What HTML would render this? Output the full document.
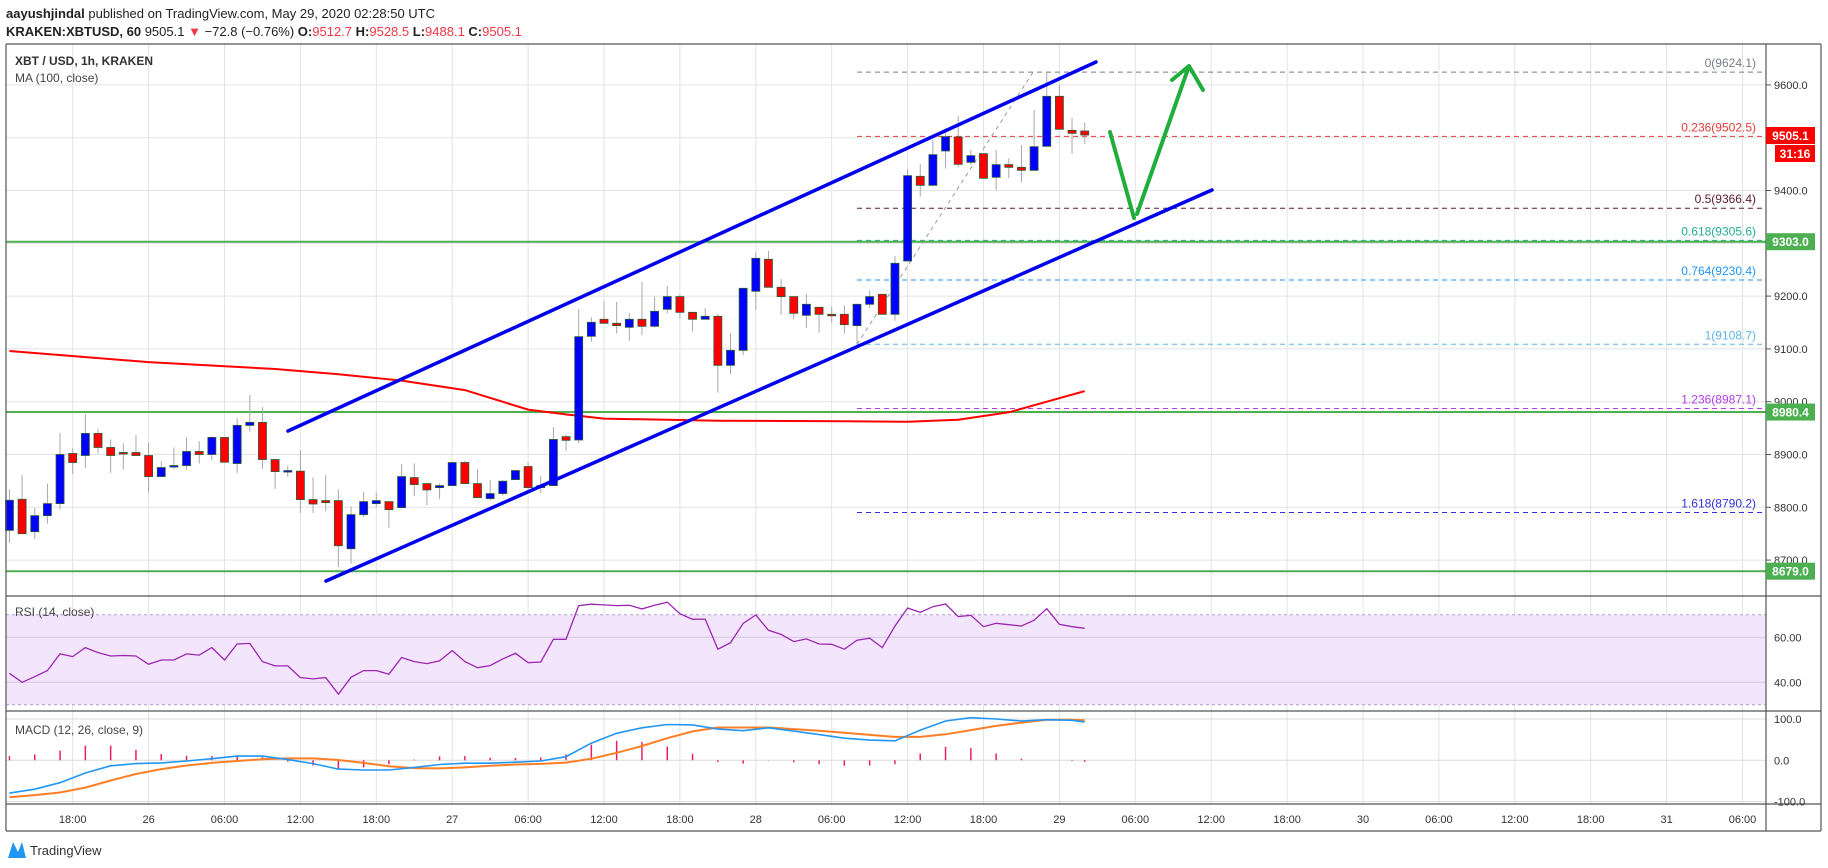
<!DOCTYPE html>
<html><head><meta charset="utf-8"><style>
html,body{margin:0;padding:0;background:#fff;}
svg{display:block;font-family:"Liberation Sans",sans-serif;}
</style></head><body>
<svg id="chart" width="1828" height="868" viewBox="0 0 1828 868" xmlns="http://www.w3.org/2000/svg">
<text x="6" y="18" font-size="13" fill="#222"><tspan font-weight="bold">aayushjindal</tspan> published on TradingView.com, May 29, 2020 02:28:50 UTC</text>
<text x="6" y="36" font-size="13" fill="#222"><tspan font-weight="bold">KRAKEN:XBTUSD, 60</tspan> 9505.1 <tspan fill="#f23645">▼</tspan> −72.8 (−0.76%) <tspan font-weight="bold">O:</tspan><tspan fill="#f23645">9512.7</tspan> <tspan font-weight="bold">H:</tspan><tspan fill="#f23645">9528.5</tspan> <tspan font-weight="bold">L:</tspan><tspan fill="#f23645">9488.1</tspan> <tspan font-weight="bold">C:</tspan><tspan fill="#f23645">9505.1</tspan></text>
<g id="grid"></g><g id="rsiBg"></g><g id="levels"></g><g id="candles"></g><g id="overlay"></g><g id="frame"></g><g id="labels"></g>
</svg>
<script>
const opens=[8756.3,8815.2,8753.8,8784.2,8807,8901.9,8898.1,8939.9,8913.3,8903.8,8903.8,8898.1,8858.2,8879.1,8879.1,8905.7,8900,8932.3,8882.9,8955.1,8960.8,8890.5,8869.6,8868.4,8814.6,8812.7,8812.7,8721.5,8786.1,8807,8810.8,8799.4,8856.3,8844.9,8837.3,8841.1,8884.8,8844.9,8816.5,8826,8852.5,8877.2,8837.3,8841.1,8933.8,8927.5,9123.9,9156.1,9148.5,9140.9,9156.1,9142.8,9175,9199,9169.3,9156.1,9161.7,9068.9,9097.3,9209.1,9269.7,9216.7,9199,9163.6,9178.8,9165.5,9165.5,9144.1,9184.5,9203.4,9165.5,9266.5,9426.9,9409.8,9474.9,9501.4,9453.4,9469.8,9425,9449,9443.9,9438.2,9483.7,9578.4,9514,9512.7];
const closes=[8813.3,8750,8784.2,8807,8900,8884.8,8939.9,8913.3,8898.1,8902.5,8898.1,8858.2,8875.3,8879.1,8905.7,8900,8932.3,8885.4,8955.1,8960.8,8890.5,8867.7,8869.6,8814.6,8806.3,8808.9,8727.2,8786.1,8810.8,8812.7,8795.6,8858.2,8843.1,8832.9,8841.1,8884.8,8844.9,8818.4,8826,8849.4,8869.6,8837.3,8841.1,8928.5,8926.9,9123.2,9150.4,9148.5,9144.1,9156.1,9142.8,9171.2,9199,9169.3,9156.1,9161.7,9068.9,9097.3,9214.8,9271.6,9216.7,9199,9167.4,9184.5,9165.5,9164.5,9145.9,9184.5,9199,9165.5,9262.1,9428.1,9409.8,9467.9,9502,9449.6,9466,9423.1,9449,9443.9,9438.2,9483,9578.4,9515.9,9508.3,9505.1];
const highs=[8834.2,8860.8,8799.4,8844.9,8941.2,8911.4,8976.6,8948.1,8928.5,8920.9,8936.7,8922.8,8887.3,8913.3,8932.3,8925.3,8934.8,8932.3,8969,9012.7,8989.9,8890.5,8879.1,8908.2,8856.3,8860.8,8834.2,8801.9,8829.1,8827.2,8810.8,8881.7,8883.5,8844.9,8844.9,8884.8,8887.3,8872.2,8851.3,8851.3,8869.6,8885.4,8858.9,8951.9,8938.2,9175.6,9159.8,9190.8,9188.9,9168.1,9226.8,9199,9219.2,9203.4,9169.3,9176.9,9166.2,9129.5,9214.8,9282.9,9285.5,9232.4,9199,9204,9178.8,9180,9182.6,9184.5,9210.3,9203.4,9276,9440.1,9450.2,9495.7,9517.8,9540.5,9476.8,9469.8,9476.8,9461,9486.2,9552.5,9623.8,9599.9,9537.4,9528.5];
const lows=[8732.3,8750,8739.9,8769,8795.6,8862.7,8874.7,8901.9,8865.2,8871.5,8898.1,8827.8,8858.2,8872.8,8871.5,8882.9,8889.2,8885.4,8865.2,8943,8872.8,8834.8,8857.6,8789.2,8789.2,8793,8686.7,8693,8781.6,8800.6,8761.4,8799.4,8821.5,8803.8,8815.8,8841.1,8844.9,8818.4,8812.7,8822.2,8852.5,8833.5,8827.2,8841.1,8906.7,8921.2,9113.7,9148.5,9128.9,9115.6,9126.4,9140.9,9167.4,9158,9132.7,9156.1,9017.2,9052.5,9088.5,9173.7,9216.7,9164.9,9156.7,9139.6,9130.8,9149.7,9128.9,9108.7,9177.5,9165.5,9153.5,9266.5,9388.4,9409.8,9441.4,9443.9,9448.3,9423.1,9401,9423.1,9414.9,9438.2,9483.7,9515.9,9469.8,9488.1];
const firstHour=-11;
const maHours=[-11,0,10,15,20,25,30,33,36,45,55,60,64,68,71,74];
const maVals=[9096,9075,9062,9052,9040,9022,8985,8976,8968,8964,8963,8962,8966,8980,9000,9020];
const rsiVals=[44.0,40.0,42.5,45.2,52.6,51.4,55.4,53.2,51.7,51.9,51.7,48.0,49.9,49.9,52.6,52.1,55.4,49.9,57.0,57.3,49.2,47.3,47.3,42.1,41.5,42.1,34.7,42.2,45.2,45.2,43.6,51.0,49.2,48.3,49.5,54.1,49.2,46.5,47.4,50.4,52.9,48.7,49.0,59.1,59.1,74.1,74.7,74.4,74.1,74.2,72.6,74.2,75.6,70.5,68.0,68.1,54.7,57.6,66.2,69.9,63.1,61.3,58.1,59.3,57.0,56.9,54.7,58.7,59.6,55.4,65.0,73.0,71.1,73.6,74.8,69.2,69.8,64.7,66.2,65.6,65.0,67.6,72.7,65.8,64.7,64.0];
const macdIdx=[0,2,4,6,8,10,12,14,16,18,20,22,24,26,28,30,32,34,36,38,40,42,44,46,48,50,52,54,56,58,60,62,64,66,68,70,72,74,76,78,80,82,84,85];
const macdVals=[-79.5,-70,-54.3,-30.7,-13.4,-7.9,-6.3,-1.6,3.9,10.2,10.2,1.6,-7.9,-21.3,-23.6,-23.6,-17.3,-10.2,-7.1,-7.1,-4.7,-1.6,8.7,41.7,65.3,78.7,86.6,85.8,75.5,71.6,78.7,70.8,62.2,53.5,48.8,47.2,73.2,95.2,103.1,99.9,95.2,98.4,96.8,92.9];
const signalVals=[-89.7,-84.2,-77.9,-66.1,-48.8,-33.1,-21.3,-12.6,-6.3,-1.6,2.4,4.7,4.7,0.8,-6.3,-14.2,-18.9,-19.7,-17.3,-13.4,-10.2,-8.7,-5.5,3.9,18.1,34.6,53.5,70,79.5,79.5,79.5,75.5,71.6,66.9,61.4,56.7,56.7,63,73.2,83.4,91.3,98.4,98.4,96.8];
const histVals=[10.2,14.2,23.6,35.4,35.4,25.2,15,11,10.2,11.8,7.8,-3.1,-12.6,-22.1,-17.3,-9.4,1.6,9.5,10.2,6.3,5.5,7.1,14.2,37.8,47.2,44.1,33.1,15.8,-4,-7.9,-0.8,-4.7,-9.4,-13.4,-12.6,-9.5,16.5,32.2,29.9,16.5,3.9,0,-1.6,-3.9];
const priceTicks=[8700,8800,8900,9000,9100,9200,9400,9600];
const priceGrid=[8700,8800,8900,9000,9100,9200,9300,9400,9500,9600];
const timeLabels=["18:00","26","06:00","12:00","18:00","27","06:00","12:00","18:00","28","06:00","12:00","18:00","29","06:00","12:00","18:00","30","06:00","12:00","18:00","31","06:00"];
const timeLabelStartHour=-6;
const fibRatios=["0","0.236","0.5","0.618","0.764","1","1.236","1.618"];
const fibPrices=[9624.1,9502.5,9366.4,9305.6,9230.4,9108.7,8987.1,8790.2];
const fibColors=["#787b86","#e53935","#5d1a33","#22ab94","#2196f3","#5eb7e6","#b33ee6","#3030e0"];
const hLevels=[9303.0,8980.4,8679.0];
const rsiTicks=[40,60];
const macdTicks=[-100,0,100];

const NS="http://www.w3.org/2000/svg";
const L=6,R=1766,MT=44,MB=596,RT=596,RB=711,MCT=711,MCB=804,TB=831;
function xh(h){return 148.6+12.65*h;}
function xi(i){return xh(i+firstHour);}
function yP(p){return 243.3+(9300-p)*0.528;}
function yR(v){return 637.3+(60-v)*2.25;}
function yM(v){return 760.3-v*0.413;}
function el(tag,parent,attrs){const e=document.createElementNS(NS,tag);for(const k in attrs)e.setAttribute(k,attrs[k]);document.getElementById(parent).appendChild(e);return e;}
function txt(parent,x,y,s,attrs){const e=el('text',parent,Object.assign({x:x,y:y},attrs));e.textContent=s;return e;}

// grid verticals
for(let h=-6;h<=132;h+=6){const x=xh(h);if(x>R)break;
 const g=el('line','grid',{x1:x,x2:x,y1:MT,y2:MCB,stroke:'#e3e3e3','stroke-width':1});
 
 }
priceGrid.forEach(p=>{const y=yP(p);
 const g=el('line','grid',{x1:L,x2:R,y1:y,y2:y,stroke:'#e3e3e3','stroke-width':1});
 
 });
// RSI band
const band=el('rect','rsiBg',{x:L,y:yR(70),width:R-L,height:yR(30)-yR(70),fill:'#f3e6fc'});


[70,30].forEach(v=>{const l=el('line','rsiBg',{x1:L,x2:R,y1:yR(v),y2:yR(v),stroke:'#b39ccc','stroke-dasharray':'3,3'});
 
 });
rsiTicks.forEach(v=>{const l=el('line','rsiBg',{x1:L,x2:R,y1:yR(v),y2:yR(v),stroke:'#d4c6e0'});
 
 });
macdTicks.forEach(v=>{const l=el('line','rsiBg',{x1:L,x2:R,y1:yM(v),y2:yM(v),stroke:'#dcdcdc'});
 
 });

// fib levels
const fx1=857,fx2=R;
fibPrices.forEach((p,k)=>{const y=yP(p);
 const l=el('line','levels',{x1:fx1,x2:fx2,y1:y,y2:y,stroke:fibColors[k],'stroke-dasharray':'5,4','stroke-width':1});
 
 
 const t=txt('levels',1756,y-5,fibRatios[k]+'('+p.toFixed(1)+')',{'font-size':12,fill:fibColors[k],'text-anchor':'end'});
 
 });
const fd=el('line','levels',{x1:857,y1:yP(fibPrices[5]),x2:1033,y2:yP(fibPrices[0]),stroke:'#999','stroke-dasharray':'4,4'});


hLevels.forEach(p=>{const y=yP(p);
 const l=el('line','levels',{x1:L,x2:R,y1:y,y2:y,stroke:'#4caf50','stroke-width':2});
 
 });

// MA
let maD='';maHours.forEach((h,k)=>{maD+=(k?'L':'M')+xh(h).toFixed(1)+','+yP(maVals[k]).toFixed(1);});
const ma=el('path','candles',{d:maD,fill:'none',stroke:'#ff0000','stroke-width':2});



// candles
opens.forEach((o,i)=>{const c=closes[i],x=xi(i),up=c>=o;
 const w=el('line','candles',{x1:x,x2:x,y1:yP(highs[i]),y2:yP(lows[i]),stroke:'#a8a8a8','stroke-width':1});
 
 
 const top=yP(Math.max(o,c)),bot=yP(Math.min(o,c));
 const b=el('rect','candles',{x:x-4,y:top,width:8,height:Math.max(1.5,bot-top),fill:up?'#0000ff':'#ff0000',stroke:'#2b5a35','stroke-width':0.8});
 
 });

// channel
const ch1=el('line','overlay',{x1:288,y1:431,x2:1096,y2:62,stroke:'#0000ee','stroke-width':3.5,'stroke-linecap':'round'});


const ch2=el('line','overlay',{x1:326,y1:581,x2:1212,y2:190,stroke:'#0000ee','stroke-width':3.5,'stroke-linecap':'round'});


const a1=el('line','overlay',{x1:1110,y1:132,x2:1134,y2:218,stroke:'#1fad3c','stroke-width':4,'stroke-linecap':'round'});


const a2=el('path','overlay',{d:'M1137,214 L1189,66 M1172,80 L1189,66 L1203,90',fill:'none',stroke:'#1fad3c','stroke-width':4,'stroke-linecap':'round','stroke-linejoin':'round'});



// RSI
let rd='';rsiVals.forEach((v,i)=>{rd+=(i?'L':'M')+xi(i).toFixed(1)+','+yR(v).toFixed(1);});
const rl=el('path','overlay',{d:rd,fill:'none',stroke:'#9c27b0','stroke-width':1.3});


// MACD
histVals.forEach((v,k)=>{const x=xi(macdIdx[k]);
 const b=el('line','overlay',{x1:x,x2:x,y1:yM(0),y2:yM(v),stroke:'#e91e63','stroke-width':1.5});
 
 });
let sd='',md='';macdIdx.forEach((i,k)=>{sd+=(k?'L':'M')+xi(i).toFixed(1)+','+yM(signalVals[k]).toFixed(1);md+=(k?'L':'M')+xi(i).toFixed(1)+','+yM(macdVals[k]).toFixed(1);});
const sl=el('path','overlay',{d:sd,fill:'none',stroke:'#ff7f27','stroke-width':2});


const ml=el('path','overlay',{d:md,fill:'none',stroke:'#2196f3','stroke-width':1.6});



// frame
[[L,MT,1821,MT],[L,MB,1821,MB],[L,RB,1821,RB],[L,MCB,1821,MCB],[L,TB,1821,TB],[L,MT,L,TB],[R,MT,R,TB],[1821,MT,1821,TB]].forEach(a=>{
 const f=el('line','frame',{x1:a[0],y1:a[1],x2:a[2],y2:a[3],stroke:'#555','stroke-width':1.2});
 
 });

// axis labels
priceTicks.forEach(p=>{const y=yP(p);
 const tk=el('line','labels',{x1:R,x2:R+5,y1:y,y2:y,stroke:'#555'});
 
 
 const t=txt('labels',1774,y+4,p.toFixed(1),{'font-size':11,fill:'#333'});
 
 });
function box(y,h,x,w,fill,label,name){
 const r=el('rect','labels',{x:x,y:y,width:w,height:h,fill:fill});
 
 
 const t=txt('labels',x+w/2,y+h/2+4.5,label,{'font-size':12,'font-weight':'bold',fill:'#fff','text-anchor':'middle'});
 
 }
box(127,17,1766,49,'#ff0000','9505.1','last-price-box');
box(145,17,1775,40,'#ff0000','31:16','countdown-box');
hLevels.forEach(p=>{box(yP(p)-8.5,17,1766,49,'#4caf50',p.toFixed(1),'level-price-box');});
rsiTicks.forEach(v=>{const t=txt('labels',1774,yR(v)+4,v.toFixed(2),{'font-size':11,fill:'#333'});
 
 });
macdTicks.forEach(v=>{const t=txt('labels',1774,yM(v)+4,v.toFixed(1),{'font-size':11,fill:'#333'});
 
 });
timeLabels.forEach((s,k)=>{const t=txt('labels',xh(timeLabelStartHour+6*k),823,s,{'font-size':11,fill:'#333','text-anchor':'middle'});
 
 });
const t1=txt('labels',15,65,'XBT / USD, 1h, KRAKEN',{'font-size':12,'font-weight':'bold',fill:'#333'});


const t2=txt('labels',15,82,'MA (100, close)',{'font-size':12,fill:'#444'});


const t3=txt('labels',15,616,'RSI (14, close)',{'font-size':12,fill:'#444'});


const t4=txt('labels',15,734,'MACD (12, 26, close, 9)',{'font-size':12,fill:'#444'});


const lg=el('path','labels',{d:'M8,858 L13,842 L18,852 L22,842 L26,858 Z',fill:'#2196f3'});


const lt=txt('labels',30,855,'TradingView',{'font-size':13,fill:'#333'});


</script>
</body></html>
